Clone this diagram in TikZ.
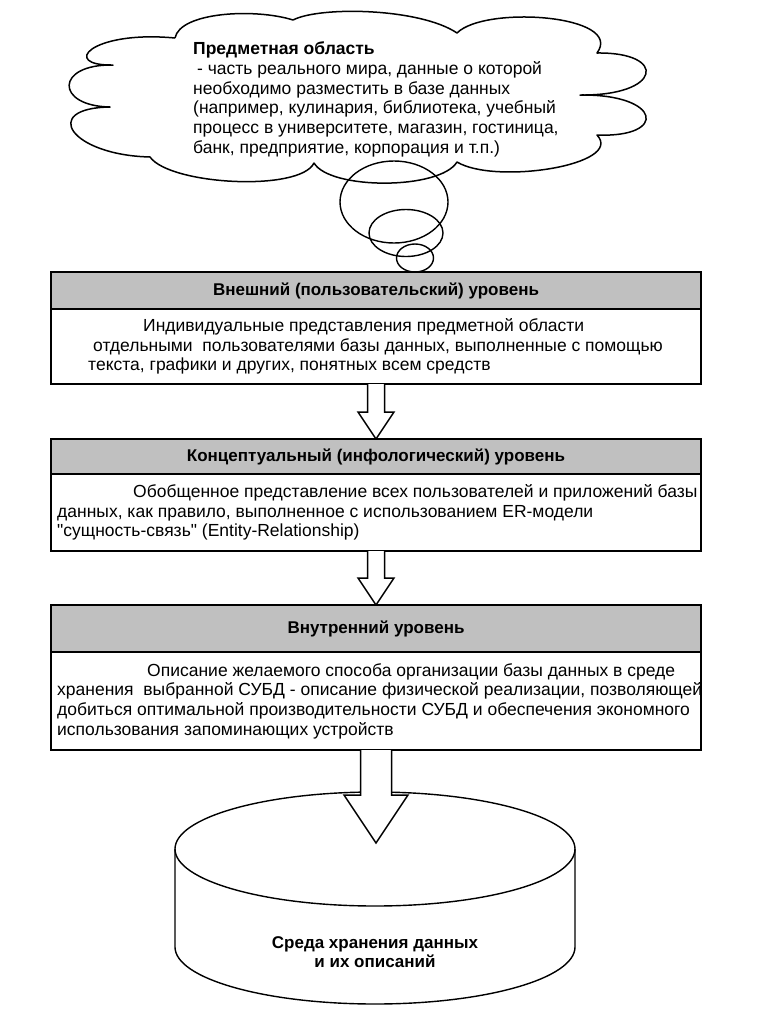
\documentclass[tikz,border=0pt]{standalone}
\usepackage{fontspec}
\setmainfont{Liberation Sans}[Ligatures=TeXOff]
\usetikzlibrary{calc}
\definecolor{hdrgray}{RGB}{192,192,192}
\newcommand{\txtsize}{\fontsize{17.5}{19.7}\selectfont}
\newcommand{\hdrsize}{\fontsize{17}{19.7}\selectfont}
\begin{document}
\begin{tikzpicture}[x=1pt,y=-1pt,
  hdr/.style={draw=black, line width=1.7pt, fill=hdrgray, minimum width=650pt, inner sep=0pt, outer sep=0pt, font=\bfseries\hdrsize},
  bodybox/.style={draw=black, line width=1.7pt, fill=white, minimum width=650pt, inner sep=0pt, outer sep=0pt, anchor=north},
  bodytxt/.style={anchor=west, align=left, inner sep=0pt, font=\txtsize},
  cloudline/.style={draw=black, line width=1.5pt, line join=round},
  bubble/.style={draw=black, line width=1.4pt},
  arrowshape/.style={draw=black, line width=1.5pt, fill=white, line join=miter},
  cyl/.style={draw=black, line width=1.4pt},
  dbtxt/.style={align=center, inner sep=0pt, font=\bfseries\hdrsize}
]
\useasboundingbox (0,0) rectangle (761,1013);

% cloud
\draw[cloudline] (175,38)
 .. controls (180,12) and (255,8) .. (293,20)
 .. controls (320,6) and (420,8) .. (457,33)
 .. controls (485,5) and (625,15) .. (597,53)
 .. controls (668,52) and (662,96) .. (580,95)
 .. controls (662,94) and (668,138) .. (597,135)
 .. controls (625,165) and (495,185) .. (457,162)
 .. controls (440,190) and (330,190) .. (314,163)
 .. controls (300,192) and (170,185) .. (150,157)
 .. controls (70,155) and (40,108) .. (110,107)
 .. controls (55,106) and (55,64) .. (113,65)
 .. controls (60,66) and (90,30) .. (175,38);

\node[bodytxt] (cloudtxt) at (193,99.5) {\textbf{Предметная область}\\\hspace*{4pt}- часть реального мира, данные о которой\\необходимо разместить в базе данных\\(например, кулинария, библиотека, учебный\\процесс в университете, магазин, гостиница,\\банк, предприятие, корпорация и т.п.)};

% thought bubbles
\draw[bubble] (394,202) ellipse [x radius=54pt, y radius=41pt];
\draw[bubble] (406,233) ellipse [x radius=37pt, y radius=23.5pt];
\draw[bubble] (415,258) ellipse [x radius=18.5pt, y radius=14pt];

% cylinder
\coordinate (cyl) at (375,849);
\draw[cyl] (cyl) ellipse [x radius=200pt, y radius=57pt];
\draw[cyl] ($(cyl)+(-200,0)$) -- ($(cyl)+(-200,98)$) arc[start angle=180, end angle=360, x radius=200pt, y radius=57pt] -- ($(cyl)+(200,0)$);
\node[dbtxt] (dbt) at (375,952) {Среда хранения данных\\и их описаний};

% boxes
\node[hdr, minimum height=37pt] (h1) at (376,290.5) {Внешний (пользовательский) уровень};
\node[bodybox, minimum height=75pt] (b1) at (h1.south) {};
\node[hdr, minimum height=35pt] (h2) at (376,456.5) {Концептуальный (инфологический) уровень};
\node[bodybox, minimum height=77pt] (b2) at (h2.south) {};
\node[hdr, minimum height=47pt] (h3) at (376,628.5) {Внутренний уровень};
\node[bodybox, minimum height=98pt] (b3) at (h3.south) {};

% arrows
\draw[arrowshape] ($(b1.south)+(-8.5,0)$) -- ($(b1.south)+(-8.5,28)$) -- ($(b1.south)+(-18,28)$) -- (h2.north) -- ($(b1.south)+(18,28)$) -- ($(b1.south)+(8.5,28)$) -- ($(b1.south)+(8.5,0)$);
\draw[arrowshape] ($(b2.south)+(-8.5,0)$) -- ($(b2.south)+(-8.5,27)$) -- ($(b2.south)+(-18,27)$) -- (h3.north) -- ($(b2.south)+(18,27)$) -- ($(b2.south)+(8.5,27)$) -- ($(b2.south)+(8.5,0)$);
\coordinate (tip3) at (376,843);
\draw[arrowshape] ($(b3.south)+(-15.5,0)$) -- ($(b3.south)+(-15.5,45)$) -- ($(b3.south)+(-32,45)$) -- (tip3) -- ($(b3.south)+(32,45)$) -- ($(b3.south)+(15.5,45)$) -- ($(b3.south)+(15.5,0)$);

% header borders on top of arrow tips
\node[hdr, minimum height=37pt] at (h1) {Внешний (пользовательский) уровень};
\node[hdr, minimum height=35pt] at (h2) {Концептуальный (инфологический) уровень};
\node[hdr, minimum height=47pt] at (h3) {Внутренний уровень};

% body texts
\node[bodytxt] (t1) at ($(b1.west)+(6,0)$) {\hspace*{86pt}Индивидуальные представления предметной области\\\hspace*{36pt}отдельными~ пользователями базы данных, выполненные с помощью\\\hspace*{31pt}текста, графики и других, понятных всем средств};
\node[bodytxt] (t2) at ($(b2.west)+(6,0)$) {\hspace*{76pt}Обобщенное представление всех пользователей и приложений базы\\данных, как правило, выполненное с использованием ER-модели\\"сущность-связь" (Entity-Relationship)};
\node[bodytxt] (t3) at ($(b3.west)+(6,0)$) {\hspace*{90pt}Описание желаемого способа организации базы данных в среде\\хранения~ выбранной СУБД - описание физической реализации, позволяющей\\добиться оптимальной производительности СУБД и обеспечения экономного\\использования запоминающих устройств};
\end{tikzpicture}
\end{document}
